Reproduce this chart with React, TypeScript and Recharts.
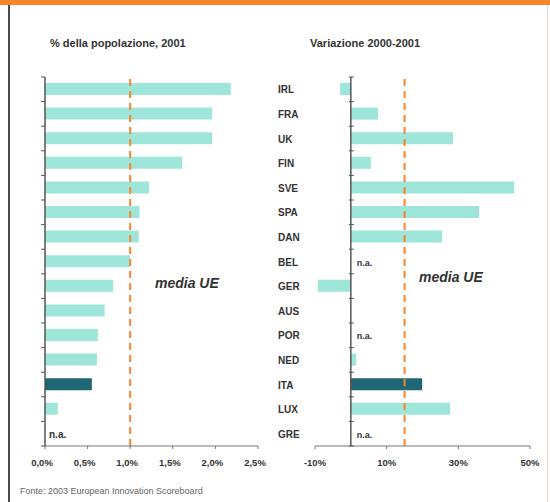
import React from 'react'
import { BarChart, Bar, XAxis, YAxis, ReferenceLine, Cell } from 'recharts'

const countries = ['IRL', 'FRA', 'UK', 'FIN', 'SVE', 'SPA', 'DAN', 'BEL', 'GER', 'AUS', 'POR', 'NED', 'ITA', 'LUX', 'GRE']
const share2001: (number | null)[] = [2.18, 1.96, 1.96, 1.61, 1.22, 1.11, 1.1, 1.0, 0.8, 0.7, 0.62, 0.61, 0.55, 0.15, null]
const change0001: (number | null)[] = [-3, 7.6, 28.5, 5.6, 45.6, 35.8, 25.5, null, -9.2, 0, null, 1.5, 19.9, 27.7, null]
const leftTicks = [0, 0.5, 1, 1.5, 2, 2.5]
const rightTicks = [-10, 10, 30, 50]
const euAvgShare = 1.0
const euAvgChange = 15
const highlight = 'ITA'

const LIGHT = '#9ee6da'
const DARK = '#1f6775'
const ORANGE = '#f5862c'
const AXIS = '#555'
const TXT = '#333'
const FONT = '"Liberation Sans", Arial, sans-serif'

const PLOT_TOP = 77
const PLOT_BOTTOM = 446
const ROW = (PLOT_BOTTOM - PLOT_TOP) / countries.length

const leftData = countries.map((c, i) => ({ c, v: share2001[i] }))
const rightData = countries.map((c, i) => ({ c, v: change0001[i] }))

const pct = (v: number) => v.toFixed(1).replace('.', ',') + '%'

function LeftTick(p: any) {
  const { x, y, index, payload } = p
  const half = ROW / 2
  const last = index === countries.length - 1
  const na = share2001[countries.indexOf(payload.value)] == null
  return (
    <g>
      <line x1={x - 4} x2={x} y1={y - half} y2={y - half} stroke={AXIS} />
      {last && <line x1={x - 4} x2={x} y1={y + half} y2={y + half} stroke={AXIS} />}
      {na && (
        <text x={x + 4} y={y + 4} fontSize={10} fontWeight="bold" fill={TXT} fontFamily={FONT}>
          n.a.
        </text>
      )}
    </g>
  )
}

// right plot: 215 px wide, domain -10..50
const RIGHT_PLOT_W = 215
function RightTick(p: any) {
  const { x, y, index, payload } = p
  const half = ROW / 2
  const zeroX = x + (10 / 60) * RIGHT_PLOT_W
  const last = index === countries.length - 1
  const na = change0001[countries.indexOf(payload.value)] == null
  return (
    <g>
      <text x={x - 37} y={y + 4} fontSize={10} fontWeight="bold" fill={TXT} fontFamily={FONT}>
        {payload.value}
      </text>
      <line x1={zeroX - 2} x2={zeroX + 3} y1={y - half} y2={y - half} stroke={AXIS} />
      {last && <line x1={zeroX - 2} x2={zeroX + 3} y1={y + half} y2={y + half} stroke={AXIS} />}
      {na && (
        <text x={zeroX + 6} y={y + 4} fontSize={9} fontWeight="bold" fill={TXT} fontFamily={FONT}>
          n.a.
        </text>
      )}
    </g>
  )
}

const titleStyle: React.CSSProperties = {
  position: 'absolute', top: 37, fontSize: 11, fontWeight: 'bold', color: TXT, fontFamily: FONT, whiteSpace: 'nowrap',
}
const mediaStyle: React.CSSProperties = {
  position: 'absolute', fontSize: 14, fontWeight: 'bold', fontStyle: 'italic', color: TXT, fontFamily: FONT, whiteSpace: 'nowrap',
}

export default function App() {
  return (
    <div style={{ position: 'absolute', left: 0, top: 0, width: 550, height: 502, background: '#fff', overflow: 'hidden', fontFamily: FONT }}>
      {/* frame */}
      <div style={{ position: 'absolute', left: 0, top: 0, width: 550, height: 5, background: ORANGE }} />
      <div style={{ position: 'absolute', left: 8, top: 5, width: 2, height: 497, background: '#4a4a4a' }} />
      <div style={{ position: 'absolute', left: 547, top: 5, width: 1, height: 497, background: '#e8d8c8' }} />

      <div style={{ ...titleStyle, left: 50 }}>% della popolazione, 2001</div>
      <div style={{ ...titleStyle, left: 310 }}>Variazione 2000-2001</div>

      <div style={{ position: 'absolute', left: 0, top: 0 }}>
        <BarChart width={290} height={502} data={leftData} layout="vertical"
          margin={{ top: PLOT_TOP, right: 32, bottom: 502 - PLOT_BOTTOM - 30, left: 35 }}>
          <XAxis type="number" domain={[0, 2.5]} ticks={leftTicks} height={30}
            tickFormatter={pct} stroke="#777" tickSize={3} tickMargin={10}
            tick={{ fontSize: 9.5, fontWeight: 'bold', fill: TXT, fontFamily: FONT, dx: -3 }} />
          <YAxis type="category" dataKey="c" width={10} interval={0} tickLine={false}
            tickSize={0} tickMargin={0} stroke={AXIS} strokeWidth={1.5} tick={<LeftTick />} />
          <Bar dataKey="v" barSize={12} isAnimationActive={false}>
            {leftData.map((d) => (
              <Cell key={d.c} fill={d.c === highlight ? DARK : LIGHT} />
            ))}
          </Bar>
          <ReferenceLine x={euAvgShare} stroke={ORANGE} strokeWidth={2} strokeDasharray="7 5" />
        </BarChart>
      </div>

      <div style={{ position: 'absolute', left: 270, top: 0 }}>
        <BarChart width={280} height={502} data={rightData} layout="vertical"
          margin={{ top: PLOT_TOP, right: 20, bottom: 502 - PLOT_BOTTOM - 30, left: 5 }}>
          <XAxis type="number" domain={[-10, 50]} ticks={rightTicks} height={30}
            tickFormatter={(v: number) => v + '%'} stroke="#777" tickSize={3} tickMargin={10}
            tick={{ fontSize: 9.5, fontWeight: 'bold', fill: TXT, fontFamily: FONT }} />
          <YAxis type="category" dataKey="c" width={40} interval={0} tickLine={false} axisLine={false}
            tickSize={0} tickMargin={0} tick={<RightTick />} />
          <Bar dataKey="v" barSize={12} isAnimationActive={false}>
            {rightData.map((d) => (
              <Cell key={d.c} fill={d.c === highlight ? DARK : LIGHT} />
            ))}
          </Bar>
          <ReferenceLine x={0} stroke={AXIS} strokeWidth={1.5} />
          <ReferenceLine x={euAvgChange} stroke={ORANGE} strokeWidth={2} strokeDasharray="7 5" />
        </BarChart>
      </div>

      <div style={{ ...mediaStyle, left: 155, top: 275 }}>media UE</div>
      <div style={{ ...mediaStyle, left: 419, top: 269 }}>media UE</div>

      <div style={{ position: 'absolute', left: 20, top: 486, fontSize: 9, color: '#666', fontFamily: FONT, whiteSpace: 'nowrap' }}>
        Fonte: 2003 European Innovation Scoreboard
      </div>
    </div>
  )
}
